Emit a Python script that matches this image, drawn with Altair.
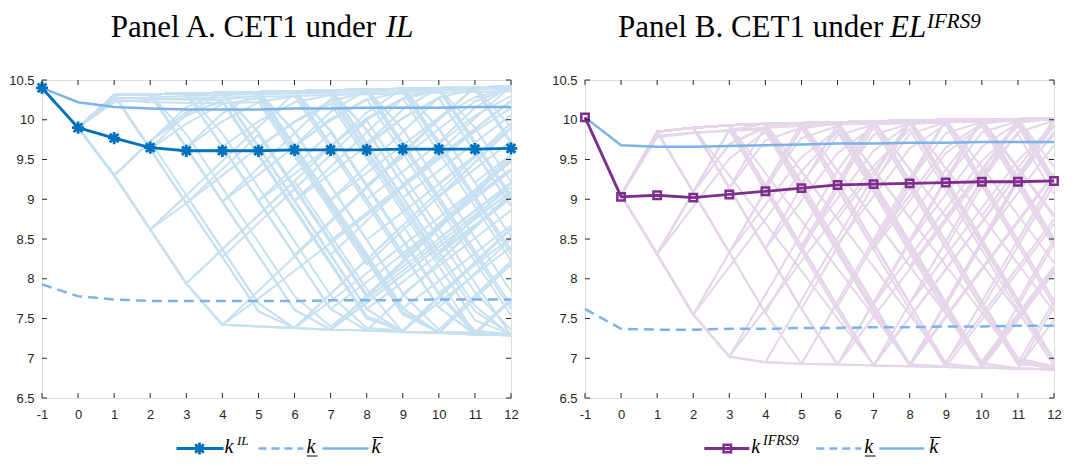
import altair as alt
import pandas as pd

periods = list(range(-1, 13))

meanA = [10.40, 9.90, 9.77, 9.65, 9.61, 9.61, 9.61, 9.62, 9.62, 9.62, 9.63, 9.63, 9.63, 9.64]
upperA = [10.40, 10.22, 10.16, 10.14, 10.13, 10.13, 10.13, 10.14, 10.14, 10.15, 10.15, 10.15, 10.16, 10.16]
lowerA = [7.93, 7.78, 7.74, 7.72, 7.72, 7.72, 7.72, 7.72, 7.73, 7.73, 7.73, 7.74, 7.74, 7.74]

meanB = [10.03, 9.03, 9.05, 9.02, 9.06, 9.10, 9.14, 9.18, 9.19, 9.20, 9.21, 9.22, 9.22, 9.23]
upperB = [10.03, 9.68, 9.66, 9.66, 9.67, 9.68, 9.69, 9.70, 9.70, 9.71, 9.71, 9.72, 9.72, 9.72]
lowerB = [7.62, 7.37, 7.36, 7.36, 7.37, 7.37, 7.38, 7.38, 7.39, 7.39, 7.40, 7.40, 7.41, 7.41]

startA = [10.40, 9.90]
startB = [10.03, 9.05]

# simulated CET1 paths, periods 1..12
pathsA = [
    [10.31, 10.32, 10.33, 10.34, 10.35, 10.36, 10.37, 10.38, 10.39, 10.40, 10.41, 10.42],
    [9.30, 8.62, 7.94, 7.42, 7.40, 7.38, 7.36, 7.35, 7.33, 7.32, 7.30, 7.29],
    [9.30, 8.62, 7.94, 7.42, 7.85, 8.28, 8.71, 9.14, 9.57, 10.00, 10.41, 10.42],
    [9.30, 9.73, 10.16, 10.34, 10.35, 10.36, 10.37, 10.38, 10.39, 10.40, 10.41, 10.42],
    [9.30, 8.62, 9.05, 9.48, 9.91, 10.34, 10.37, 10.38, 10.39, 10.40, 10.41, 10.42],
    [10.31, 9.63, 8.95, 8.27, 7.59, 7.38, 7.81, 8.24, 8.67, 9.10, 9.53, 9.96],
    [10.31, 10.32, 9.65, 8.97, 8.29, 7.61, 7.36, 7.79, 8.22, 8.65, 9.08, 9.51],
    [10.31, 10.32, 10.33, 9.66, 8.98, 8.30, 7.62, 7.35, 7.33, 7.32, 7.30, 7.29],
    [9.30, 8.62, 7.94, 8.37, 8.80, 9.23, 9.66, 10.09, 10.39, 10.40, 10.41, 10.42],
    [10.31, 9.64, 10.07, 10.34, 10.35, 10.36, 10.37, 10.38, 10.39, 10.40, 10.41, 10.42],
    [10.31, 10.32, 10.33, 10.34, 9.66, 8.98, 8.30, 8.73, 9.16, 9.59, 10.02, 10.42],
    [10.31, 10.32, 10.33, 10.34, 10.35, 9.67, 8.99, 8.31, 7.63, 7.32, 7.30, 7.29],
    [10.31, 10.32, 10.33, 10.34, 10.35, 10.36, 9.68, 9.00, 8.32, 7.64, 8.07, 8.50],
    [10.31, 10.32, 10.33, 10.34, 10.35, 10.36, 10.37, 9.70, 9.02, 8.34, 7.66, 7.29],
    [10.31, 10.32, 10.33, 10.34, 10.35, 10.36, 10.37, 10.38, 9.71, 9.03, 8.35, 7.67],
    [10.31, 10.32, 10.33, 10.34, 10.35, 10.36, 10.37, 10.38, 10.39, 9.72, 9.04, 8.36],
    [10.31, 10.32, 10.33, 10.34, 10.35, 10.36, 10.37, 10.38, 10.39, 10.40, 9.72, 9.04],
    [10.31, 10.32, 10.33, 10.34, 10.35, 10.36, 10.37, 10.38, 10.39, 10.40, 10.41, 9.73],
    [10.31, 9.63, 8.95, 9.38, 9.81, 9.13, 8.45, 7.77, 8.20, 8.63, 9.06, 9.49],
    [10.31, 10.32, 9.65, 8.97, 9.40, 9.83, 10.26, 9.58, 8.90, 8.22, 8.65, 9.08],
    [9.30, 8.62, 9.05, 8.37, 7.69, 7.38, 7.81, 8.24, 8.67, 7.99, 7.31, 7.29],
    [10.31, 10.32, 10.33, 9.66, 8.98, 9.41, 9.84, 9.16, 8.48, 7.80, 7.30, 7.73],
    [10.31, 10.32, 10.33, 10.34, 9.66, 8.98, 8.30, 7.62, 7.33, 7.76, 8.19, 8.62],
    [10.31, 10.32, 10.33, 10.34, 10.35, 9.67, 8.99, 9.42, 9.85, 10.28, 9.60, 8.92],
    [10.31, 10.32, 9.65, 8.97, 8.29, 7.61, 7.36, 7.35, 7.78, 8.21, 8.64, 9.07],
    [9.30, 8.62, 7.94, 7.42, 7.40, 7.38, 7.36, 7.79, 8.22, 8.65, 9.08, 9.51],
    [10.31, 10.32, 10.33, 10.34, 10.35, 10.36, 9.68, 9.00, 8.32, 7.64, 7.30, 7.29],
    [10.31, 10.32, 10.33, 10.34, 10.35, 10.36, 10.37, 10.38, 9.71, 9.03, 9.46, 9.89],
    [10.31, 9.63, 8.95, 8.27, 8.70, 9.13, 9.56, 9.99, 9.31, 8.63, 7.95, 7.29],
    [10.31, 10.32, 10.33, 10.34, 9.66, 8.98, 9.41, 9.84, 10.27, 10.40, 10.41, 10.42],
    [10.31, 10.32, 10.33, 10.34, 10.35, 10.36, 10.37, 9.70, 9.02, 8.34, 8.77, 9.20],
    [10.31, 10.32, 10.33, 10.34, 10.35, 9.67, 8.99, 8.31, 7.63, 7.32, 7.75, 8.18],
    [10.31, 10.32, 9.65, 10.08, 10.35, 10.36, 9.68, 9.00, 8.32, 7.64, 7.30, 7.29],
    [9.30, 9.73, 9.05, 8.37, 7.69, 7.38, 7.81, 8.24, 7.56, 7.32, 7.30, 7.29],
    [10.31, 10.32, 10.33, 9.66, 8.98, 8.30, 8.73, 9.16, 9.59, 10.02, 10.41, 9.73],
    [10.31, 10.32, 10.33, 10.34, 10.35, 9.67, 10.10, 10.38, 10.39, 10.40, 9.73, 9.05],
    [10.31, 10.32, 10.33, 10.34, 10.35, 10.36, 10.37, 9.70, 10.13, 10.40, 10.41, 10.42],
    [10.31, 10.32, 10.33, 10.34, 10.35, 10.36, 10.37, 10.38, 10.39, 9.72, 10.15, 10.42],
    [10.31, 10.32, 10.33, 10.34, 9.66, 8.98, 8.30, 7.62, 7.33, 7.32, 7.30, 7.73],
    [9.30, 8.62, 7.94, 8.37, 8.80, 9.23, 8.55, 7.87, 7.33, 7.32, 7.75, 8.18],
    [10.28, 10.26, 10.25, 10.25, 9.57, 8.89, 8.21, 7.53, 7.35, 7.78, 8.21, 8.64],
    [10.25, 10.22, 10.21, 10.21, 10.22, 9.54, 8.86, 8.18, 8.61, 9.04, 9.47, 9.90],
    [9.30, 9.73, 10.10, 10.22, 9.54, 8.86, 8.18, 7.50, 7.34, 7.77, 8.20, 8.63],
    [10.31, 9.63, 9.95, 10.20, 10.27, 9.59, 8.91, 8.23, 7.55, 7.33, 7.32, 7.75],
    [10.31, 10.32, 9.65, 9.98, 10.22, 10.30, 9.62, 8.94, 8.26, 8.69, 9.12, 9.55],
    [10.31, 10.32, 10.33, 9.66, 9.98, 10.22, 10.31, 9.63, 8.95, 8.27, 7.59, 7.30],
    [9.30, 8.62, 8.95, 9.30, 9.65, 9.97, 10.20, 9.52, 8.84, 8.16, 7.48, 7.30],
    [10.31, 10.32, 10.33, 10.34, 9.66, 9.98, 10.24, 10.34, 9.66, 8.98, 8.30, 7.62],
    [10.31, 10.32, 10.33, 10.34, 10.35, 9.67, 9.99, 10.25, 10.35, 9.67, 8.99, 8.31],
    [10.31, 10.32, 10.33, 10.34, 10.35, 10.36, 9.68, 10.00, 10.26, 10.37, 9.69, 9.01],
    [10.31, 10.32, 10.33, 10.34, 10.35, 10.36, 10.37, 9.70, 10.02, 10.28, 10.38, 9.70],
    [9.30, 8.62, 7.94, 7.42, 7.75, 8.10, 8.45, 8.80, 9.15, 9.50, 9.85, 10.15],
    [10.31, 10.32, 9.65, 8.97, 8.29, 7.61, 7.36, 7.70, 8.05, 8.40, 8.75, 9.10],
    [10.31, 10.32, 10.33, 10.34, 10.35, 9.67, 8.99, 8.31, 7.63, 7.97, 8.32, 8.67],
    [10.31, 10.32, 10.33, 10.34, 10.35, 10.36, 10.37, 9.70, 9.02, 8.34, 8.68, 9.03],
    [10.31, 10.32, 10.33, 10.34, 10.35, 10.36, 9.68, 9.00, 9.35, 9.70, 10.05, 10.30],
    [10.31, 9.63, 8.95, 8.27, 7.59, 7.38, 7.36, 7.70, 8.05, 8.40, 8.75, 9.10],
    [10.31, 10.32, 10.33, 10.34, 9.66, 8.98, 8.30, 7.62, 7.96, 8.31, 8.66, 9.01],
    [10.27, 10.28, 10.30, 10.31, 10.32, 10.33, 10.34, 10.35, 10.36, 10.37, 10.38, 10.39],
    [10.22, 10.25, 10.27, 10.28, 10.29, 10.30, 10.31, 10.32, 10.33, 10.34, 10.35, 10.36],
    [9.30, 9.73, 10.05, 10.25, 10.30, 9.62, 8.94, 8.26, 7.58, 7.33, 7.32, 7.30],
    [10.31, 10.32, 10.33, 9.66, 8.98, 8.30, 7.62, 7.96, 8.31, 8.66, 9.01, 9.36],
    [10.31, 10.32, 10.33, 10.34, 10.35, 10.36, 10.37, 10.38, 9.71, 9.03, 9.38, 9.73],
    [10.31, 10.32, 10.33, 10.34, 10.35, 9.67, 8.99, 9.33, 9.68, 10.03, 10.28, 10.40],
    [10.31, 10.32, 10.33, 10.34, 9.66, 8.98, 9.32, 9.67, 10.02, 10.27, 9.59, 8.91],
    [10.31, 10.32, 10.33, 10.34, 10.35, 10.36, 9.68, 9.00, 8.32, 8.66, 9.01, 9.36],
    [10.31, 10.32, 9.65, 8.97, 9.31, 9.66, 10.01, 10.26, 9.58, 8.90, 8.22, 7.54],
    [10.31, 10.32, 10.33, 10.34, 10.35, 10.36, 10.37, 9.70, 9.02, 9.36, 9.71, 10.06],
    [10.31, 10.32, 10.33, 9.66, 8.98, 9.32, 9.67, 10.02, 10.27, 9.59, 8.91, 8.23],
    [10.31, 10.32, 10.33, 10.34, 10.35, 10.36, 10.37, 10.38, 10.39, 9.72, 9.04, 9.38],
    [10.31, 10.32, 10.33, 10.34, 10.35, 10.36, 10.37, 10.38, 9.88, 9.20, 8.52, 7.84],
    [10.31, 10.32, 10.33, 10.34, 10.35, 10.36, 9.86, 9.18, 8.50, 7.82, 7.35, 7.30],
    [10.31, 10.32, 10.33, 10.34, 10.35, 9.85, 9.17, 8.49, 7.81, 7.36, 7.79, 8.22],
    [10.31, 10.32, 10.33, 10.34, 9.84, 9.16, 8.48, 7.80, 8.15, 8.50, 8.85, 9.20],
    [10.31, 10.32, 10.33, 9.83, 9.15, 8.47, 7.79, 7.38, 7.35, 7.70, 8.05, 8.40],
    [10.31, 10.32, 9.82, 9.14, 8.46, 7.78, 7.40, 7.75, 8.10, 8.45, 8.80, 9.15],
    [10.31, 10.32, 10.33, 10.34, 10.35, 10.36, 10.37, 10.38, 10.39, 9.89, 9.21, 8.53],
    [10.31, 10.32, 10.33, 10.34, 10.35, 10.36, 10.37, 10.38, 10.39, 10.40, 9.90, 9.22],
    [10.31, 10.32, 10.33, 10.34, 10.35, 10.36, 10.37, 9.87, 9.19, 8.51, 7.83, 7.36],
    [10.31, 10.32, 10.33, 10.34, 10.35, 10.36, 10.37, 10.38, 10.39, 10.40, 10.41, 9.91],
    [10.31, 10.32, 10.33, 10.34, 10.35, 10.36, 10.37, 10.38, 9.88, 9.20, 9.55, 9.90],
    [10.31, 10.32, 10.33, 10.34, 10.35, 10.36, 9.86, 9.18, 9.53, 9.88, 10.23, 10.40],
    [10.31, 10.32, 10.33, 10.34, 10.35, 9.85, 9.17, 8.49, 8.84, 9.19, 9.54, 9.89],
    [10.31, 10.32, 10.33, 10.34, 9.84, 9.16, 8.48, 8.83, 9.18, 9.53, 9.88, 10.23],
    [10.31, 10.32, 10.33, 10.34, 10.35, 10.36, 10.37, 9.87, 9.19, 9.54, 9.89, 10.24],
    [9.30, 8.62, 7.94, 7.42, 7.40, 7.38, 7.72, 8.07, 8.42, 8.77, 9.12, 9.47],
    [10.31, 10.32, 10.33, 10.34, 10.35, 10.36, 10.37, 10.38, 10.39, 9.89, 9.21, 9.56],
    [10.31, 10.32, 10.33, 10.34, 10.35, 10.36, 9.86, 9.18, 8.50, 7.82, 8.17, 8.52],
    [10.31, 10.32, 10.33, 10.34, 10.35, 10.36, 10.37, 9.87, 9.19, 8.51, 8.86, 9.21],
    [10.31, 10.32, 10.33, 10.34, 10.35, 9.85, 9.17, 8.49, 7.81, 8.16, 8.51, 8.86],
]

pathsB = [
    [9.85, 9.90, 9.93, 9.95, 9.96, 9.97, 9.98, 9.99, 10.00, 10.00, 10.01, 10.02],
    [8.31, 7.55, 7.02, 6.95, 6.93, 6.92, 6.91, 6.90, 6.89, 6.88, 6.87, 6.86],
    [8.31, 9.09, 9.87, 9.95, 9.96, 9.97, 9.98, 9.99, 10.00, 10.00, 10.01, 10.02],
    [9.85, 9.09, 8.33, 7.57, 6.93, 7.71, 8.49, 9.27, 10.00, 10.00, 10.01, 10.02],
    [8.31, 7.55, 8.33, 9.11, 9.89, 9.96, 9.97, 9.98, 9.99, 10.00, 10.01, 10.02],
    [9.85, 9.90, 9.14, 8.38, 7.62, 6.92, 6.91, 7.69, 8.47, 9.25, 10.01, 10.02],
    [9.85, 9.90, 9.93, 9.17, 8.41, 7.65, 6.91, 6.90, 6.89, 6.88, 6.87, 6.86],
    [9.85, 9.90, 9.93, 9.95, 9.20, 8.44, 7.68, 8.46, 9.24, 10.00, 9.25, 8.49],
    [9.85, 9.90, 9.93, 9.95, 9.96, 9.21, 8.45, 7.69, 6.93, 7.71, 8.49, 9.27],
    [9.85, 9.90, 9.93, 9.95, 9.96, 9.97, 9.22, 8.46, 7.70, 6.94, 6.87, 6.86],
    [9.85, 9.90, 9.93, 9.95, 9.96, 9.97, 9.98, 9.23, 8.47, 7.71, 6.95, 6.87],
    [9.85, 9.90, 9.93, 9.95, 9.96, 9.97, 9.98, 9.99, 9.24, 8.48, 7.72, 6.96],
    [9.85, 9.90, 9.93, 9.95, 9.96, 9.97, 9.98, 9.99, 10.00, 9.24, 8.48, 7.72],
    [9.85, 9.90, 9.93, 9.95, 9.96, 9.97, 9.98, 9.99, 10.00, 10.00, 9.25, 8.49],
    [9.85, 9.90, 9.93, 9.95, 9.96, 9.97, 9.98, 9.99, 10.00, 10.00, 10.01, 9.25],
    [8.31, 9.09, 8.33, 9.11, 8.35, 9.13, 8.37, 9.15, 8.39, 9.17, 8.41, 9.19],
    [9.85, 9.09, 9.87, 9.11, 8.35, 9.13, 9.91, 9.15, 8.39, 7.63, 8.41, 9.19],
    [8.31, 7.55, 7.02, 7.80, 8.58, 9.36, 9.98, 9.22, 8.46, 7.70, 6.94, 7.72],
    [9.85, 9.90, 9.14, 8.38, 9.16, 9.94, 9.18, 8.42, 7.66, 8.44, 9.22, 10.00],
    [9.85, 9.90, 9.93, 9.17, 8.41, 9.19, 9.97, 9.99, 9.23, 8.47, 7.71, 6.95],
    [9.85, 9.90, 9.93, 9.95, 9.96, 9.97, 9.22, 8.46, 9.24, 10.00, 10.01, 10.02],
    [8.31, 7.55, 7.02, 6.95, 7.73, 8.51, 9.29, 9.99, 10.00, 9.24, 8.48, 7.72],
    [9.85, 9.09, 8.33, 9.11, 9.89, 9.97, 9.98, 9.99, 10.00, 9.24, 8.48, 9.26],
    [9.85, 9.90, 9.14, 8.38, 7.62, 8.40, 9.18, 9.96, 10.00, 10.00, 10.01, 9.25],
    [9.85, 9.90, 9.93, 9.95, 9.20, 8.44, 7.68, 6.92, 6.89, 6.88, 7.66, 8.44],
    [9.85, 9.90, 9.93, 9.95, 9.96, 9.21, 8.45, 7.69, 6.93, 6.88, 6.87, 6.86],
    [9.85, 9.90, 9.93, 9.95, 9.96, 9.97, 9.98, 9.23, 8.47, 9.25, 10.01, 10.02],
    [8.31, 9.09, 9.87, 9.11, 8.35, 7.59, 6.91, 6.90, 7.68, 8.46, 9.24, 10.02],
    [9.85, 9.90, 9.93, 9.95, 9.96, 9.97, 9.98, 9.99, 9.24, 8.48, 7.72, 8.50],
    [9.85, 9.09, 8.33, 7.57, 8.35, 9.13, 8.37, 7.61, 6.89, 6.88, 6.87, 7.65],
    [9.85, 9.90, 9.93, 9.17, 9.95, 9.97, 9.98, 9.99, 9.24, 8.48, 9.26, 10.02],
    [9.85, 9.90, 9.93, 9.95, 9.96, 9.21, 9.98, 9.99, 10.00, 10.00, 9.25, 8.49],
    [9.85, 9.90, 9.93, 9.95, 9.20, 8.44, 7.68, 6.92, 7.70, 8.48, 9.26, 10.02],
    [9.85, 9.90, 9.14, 9.92, 9.96, 9.97, 9.98, 9.23, 8.47, 7.71, 6.95, 6.86],
    [9.85, 9.90, 9.93, 9.95, 9.96, 9.97, 9.98, 9.99, 10.00, 9.24, 10.01, 10.02],
    [8.31, 7.55, 7.02, 6.95, 6.93, 6.92, 7.70, 8.48, 9.26, 10.00, 10.01, 10.02],
    [9.85, 9.90, 9.93, 9.17, 8.41, 7.65, 8.43, 9.21, 9.99, 10.00, 10.01, 10.02],
    [9.85, 9.90, 9.93, 9.95, 9.96, 9.97, 9.22, 8.46, 7.70, 8.48, 9.26, 8.50],
    [9.85, 9.90, 9.14, 8.38, 7.62, 6.92, 7.70, 8.48, 9.26, 8.50, 7.74, 6.98],
    [9.85, 9.90, 9.93, 9.95, 9.96, 9.21, 8.45, 7.69, 8.47, 7.71, 6.95, 6.86],
    [9.80, 9.84, 9.86, 9.88, 9.12, 8.36, 7.60, 6.92, 7.52, 8.12, 8.72, 9.32],
    [8.31, 8.91, 9.51, 9.85, 9.09, 8.33, 7.57, 6.91, 7.51, 8.11, 8.71, 9.31],
    [9.85, 9.90, 9.14, 9.74, 9.90, 9.14, 8.38, 8.98, 9.58, 9.92, 9.16, 8.40],
    [9.85, 9.90, 9.93, 9.95, 9.96, 9.21, 9.81, 9.95, 9.19, 8.43, 7.67, 6.96],
    [9.85, 9.90, 9.93, 9.17, 9.77, 9.92, 9.16, 8.40, 7.64, 6.93, 7.53, 8.13],
    [9.85, 9.90, 9.93, 9.95, 9.20, 8.44, 9.04, 9.64, 9.94, 9.18, 8.42, 7.66],
    [9.85, 9.90, 9.93, 9.95, 9.96, 9.97, 9.98, 9.23, 9.83, 9.97, 9.21, 8.45],
    [9.85, 9.90, 9.93, 9.95, 9.96, 9.97, 9.22, 8.46, 9.06, 9.66, 9.96, 9.20],
    [9.85, 9.09, 8.33, 8.93, 9.53, 9.87, 9.11, 8.35, 7.59, 6.93, 7.53, 8.13],
    [8.31, 7.55, 8.15, 8.75, 9.35, 9.85, 9.09, 8.33, 7.57, 6.89, 6.88, 7.48],
    [9.85, 9.90, 9.93, 9.95, 9.96, 9.97, 9.98, 9.99, 9.24, 9.84, 9.98, 9.22],
    [9.85, 9.90, 9.93, 9.95, 9.96, 9.97, 9.98, 9.99, 10.00, 9.24, 9.84, 9.99],
    [8.31, 7.55, 7.02, 7.62, 8.22, 8.82, 9.42, 9.88, 9.12, 8.36, 7.60, 6.90],
    [9.85, 9.90, 9.14, 8.38, 7.62, 6.92, 7.52, 8.12, 8.72, 9.32, 9.82, 9.06],
    [9.85, 9.90, 9.93, 9.17, 8.41, 7.65, 6.91, 7.51, 8.11, 8.71, 9.31, 9.81],
    [9.85, 9.90, 9.93, 9.95, 9.20, 8.44, 7.68, 6.92, 6.89, 7.49, 8.09, 8.69],
    [9.85, 9.90, 9.93, 9.95, 9.96, 9.21, 8.45, 7.69, 6.93, 6.88, 7.48, 8.08],
    [9.78, 9.83, 9.87, 9.90, 9.92, 9.94, 9.95, 9.96, 9.97, 9.98, 9.99, 10.00],
    [9.85, 9.90, 9.93, 9.95, 9.96, 9.97, 9.98, 9.99, 10.00, 10.00, 9.25, 9.85],
    [9.85, 9.09, 9.69, 9.92, 9.95, 9.96, 9.21, 8.45, 7.69, 6.93, 6.87, 6.86],
    [9.85, 9.90, 9.93, 9.95, 9.96, 9.97, 9.98, 9.23, 8.47, 7.71, 7.00, 6.90],
    [9.85, 9.90, 9.93, 9.95, 9.96, 9.21, 8.45, 9.05, 9.65, 9.95, 10.00, 9.25],
    [9.85, 9.90, 9.14, 8.38, 8.98, 9.58, 9.92, 9.16, 8.40, 7.64, 6.92, 6.90],
    [9.85, 9.90, 9.93, 9.95, 9.20, 9.80, 9.94, 9.96, 9.21, 8.45, 7.69, 6.96],
    [9.85, 9.90, 9.93, 9.95, 9.96, 9.97, 9.22, 9.82, 9.97, 9.99, 9.24, 8.48],
    [8.31, 9.09, 9.69, 9.90, 9.14, 8.38, 7.62, 6.92, 6.90, 6.89, 7.49, 8.09],
    [9.85, 9.90, 9.93, 9.95, 9.96, 9.97, 9.98, 9.99, 9.24, 8.48, 9.08, 9.68],
    [9.85, 9.90, 9.93, 9.17, 8.41, 9.01, 9.61, 9.95, 9.97, 9.98, 9.23, 8.47],
    [9.85, 9.90, 9.93, 9.95, 9.20, 8.44, 7.68, 8.28, 8.88, 9.48, 9.92, 9.16],
    [9.85, 9.90, 9.93, 9.95, 9.96, 9.21, 8.45, 7.69, 8.29, 8.89, 9.49, 9.93],
    [9.85, 9.90, 9.93, 9.95, 9.96, 9.97, 9.98, 9.99, 9.39, 8.79, 8.19, 7.59],
    [9.85, 9.90, 9.93, 9.95, 9.96, 9.97, 9.98, 9.38, 8.78, 8.18, 7.58, 6.98],
    [9.85, 9.90, 9.93, 9.95, 9.96, 9.97, 9.37, 8.77, 8.17, 7.57, 6.97, 6.88],
    [9.85, 9.90, 9.93, 9.95, 9.96, 9.36, 8.76, 8.16, 7.56, 6.96, 7.56, 8.16],
    [9.85, 9.90, 9.93, 9.95, 9.35, 8.75, 8.15, 7.55, 6.95, 7.55, 8.15, 8.75],
    [9.85, 9.90, 9.93, 9.95, 9.96, 9.97, 9.98, 9.99, 10.00, 9.40, 8.80, 8.20],
    [9.85, 9.90, 9.93, 9.95, 9.96, 9.97, 9.98, 9.99, 10.00, 10.00, 9.40, 8.80],
    [9.85, 9.90, 9.93, 9.95, 9.96, 9.97, 9.98, 9.99, 10.00, 10.00, 10.01, 9.41],
    [9.85, 9.90, 9.93, 9.33, 8.73, 8.13, 7.53, 6.93, 7.53, 8.13, 8.73, 9.33],
    [9.85, 9.90, 9.30, 8.70, 8.10, 7.50, 6.92, 7.52, 8.12, 8.72, 9.32, 9.92],
    [9.85, 9.90, 9.93, 9.95, 9.96, 9.97, 9.37, 8.77, 9.37, 9.97, 10.01, 10.02],
    [9.85, 9.90, 9.93, 9.95, 9.96, 9.97, 9.98, 9.38, 8.78, 9.38, 9.98, 10.02],
    [9.85, 9.90, 9.93, 9.95, 9.96, 9.97, 9.98, 9.99, 9.39, 8.79, 9.39, 9.99],
    [9.85, 9.90, 9.93, 9.95, 9.35, 8.75, 9.35, 9.95, 9.97, 9.98, 9.38, 8.78],
    [9.85, 9.90, 9.93, 9.95, 9.96, 9.36, 8.76, 8.16, 8.76, 9.36, 9.96, 10.02],
]

xticks = list(range(-1, 13))
yticks = [6.5, 7, 7.5, 8, 8.5, 9, 9.5, 10, 10.5]

W, H = 469, 318
LIGHT_A = "#c8e1f1"
LIGHT_B = "#e5d6e9"
BOUND = "#7db3e8"
MEAN_A = "#0072bd"
MEAN_B = "#7e2f8e"
AXIS = "#262626"
STAR = "M0,-1L0,1M-1,0L1,0M-0.71,-0.71L0.71,0.71M-0.71,0.71L0.71,-0.71"
SERIF = "Liberation Serif"

xscale = alt.Scale(domain=[-1, 12], nice=False, zero=False)
yscale = alt.Scale(domain=[6.5, 10.5], nice=False, zero=False)
xaxis = alt.Axis(values=xticks, labelExpr="'' + datum.value", ticks=False, domain=False,
                 grid=False, labelPadding=10, labelFontSize=13, labelColor=AXIS,
                 labelFont="Liberation Sans", title=None, labelFlush=False)
yaxis = alt.Axis(values=yticks, labelExpr="'' + datum.value", ticks=False, domain=False,
                 grid=False, labelPadding=8, labelFontSize=13, labelColor=AXIS,
                 labelFont="Liberation Sans", title=None)
X = alt.X("t:Q", scale=xscale, axis=xaxis)
Y = alt.Y("v:Q", scale=yscale, axis=yaxis)


def paths_df(start, paths):
    rows = []
    for i, p in enumerate(paths):
        for tt, v in zip(periods, start + p):
            rows.append({"path": i, "t": tt, "v": v})
    return pd.DataFrame(rows)


def series_df(vals):
    return pd.DataFrame({"t": periods, "v": vals})


one = pd.DataFrame({"a": [0]})


def hline(x1, x2, y, color, width=2.5, dash=None):
    kw = dict(color=color, strokeWidth=width)
    if dash:
        kw["strokeDash"] = dash
    return alt.Chart(one).mark_rule(**kw).encode(
        x=alt.value(x1), x2=alt.value(x2), y=alt.value(y))


def txt(s, x, y, size, italic=False, align="left", color="black"):
    kw = dict(text=s, font=SERIF, fontSize=size, align=align, baseline="alphabetic", color=color)
    if italic:
        kw["fontStyle"] = "italic"
    return alt.Chart(one).mark_text(**kw).encode(x=alt.value(x), y=alt.value(y))


def frame_ticks():
    dx = pd.DataFrame({"t": xticks})
    dy = pd.DataFrame({"v": yticks})
    r = dict(color=AXIS, strokeWidth=1)
    return [
        alt.Chart(dx).mark_rule(**r).encode(x=X, y=alt.value(H), y2=alt.value(H - 5)),
        alt.Chart(dx).mark_rule(**r).encode(x=X, y=alt.value(0), y2=alt.value(5)),
        alt.Chart(dy).mark_rule(**r).encode(y=Y, x=alt.value(0), x2=alt.value(5)),
        alt.Chart(dy).mark_rule(**r).encode(y=Y, x=alt.value(W), x2=alt.value(W - 5)),
    ]


def panel(start, paths, light, mean, upper, lower, mcolor, mshape, msize, mwidth, extra):
    p = alt.Chart(paths_df(start, paths)).mark_line(color=light, strokeWidth=2).encode(
        x=X, y=Y, detail="path:N")
    up = alt.Chart(series_df(upper)).mark_line(color=BOUND, strokeWidth=2.5).encode(x=X, y=Y)
    lo = alt.Chart(series_df(lower)).mark_line(color=BOUND, strokeWidth=2.5, strokeDash=[10, 6]).encode(x=X, y=Y)
    ml = alt.Chart(series_df(mean)).mark_line(color=mcolor, strokeWidth=2.8).encode(x=X, y=Y)
    mp = alt.Chart(series_df(mean)).mark_point(shape=mshape, filled=False, size=msize,
                                               strokeWidth=mwidth, color=mcolor, opacity=1).encode(x=X, y=Y)
    layers = [p, up, lo, ml, mp] + frame_ticks() + extra
    return alt.layer(*layers).properties(width=W, height=H)


LY = 368.5   # legend line
KY = 373.0   # legend k baseline
SY = 364.5   # superscript baseline
UY = 376.0   # underline
OY = 357.5   # overline
TY = -43.5   # title baseline
SUPY = -52.0 # title superscript baseline

extraA = [
    hline(134.5, 181.5, LY, MEAN_A, 2.8),
    alt.Chart(one).mark_point(shape=STAR, filled=False, size=150, strokeWidth=2.8,
                              color=MEAN_A, opacity=1).encode(x=alt.value(157.5), y=alt.value(LY)),
    txt("k", 182.5, KY, 20, italic=True),
    txt("IL", 195.0, SY, 13, italic=True),
    hline(216.5, 261.5, LY, BOUND, 2.5, [8, 5]),
    txt("k", 264.5, KY, 20, italic=True),
    hline(265.0, 275.5, UY, "black", 1),
    hline(280.5, 326.5, LY, BOUND, 2.5),
    txt("k", 329.5, KY, 20, italic=True),
    hline(330.5, 341.0, OY, "black", 1),
    txt("Panel A. CET1 under", 334.0, TY, 31, align="right"),
    txt("IL", 344.0, TY, 31, italic=True),
]

extraB = [
    hline(119.3, 164.3, LY, MEAN_B, 2.8),
    alt.Chart(one).mark_point(shape="square", filled=False, size=55, strokeWidth=2.5,
                              color=MEAN_B, opacity=1).encode(x=alt.value(142.3), y=alt.value(LY)),
    txt("k", 166.3, KY, 20, italic=True),
    txt("IFRS9", 178.0, SY, 14, italic=True),
    hline(231.3, 276.3, LY, BOUND, 2.5, [8, 5]),
    txt("k", 279.3, KY, 20, italic=True),
    hline(280.0, 290.5, UY, "black", 1),
    hline(294.3, 339.3, LY, BOUND, 2.5),
    txt("k", 344.3, KY, 20, italic=True),
    hline(345.0, 355.5, OY, "black", 1),
    txt("Panel B. CET1 under", 298.3, TY, 31, align="right"),
    txt("EL", 305.0, TY, 31, italic=True),
    txt("IFRS9", 342.0, SUPY, 21, italic=True),
]

chartA = panel(startA, pathsA, LIGHT_A, meanA, upperA, lowerA, MEAN_A, STAR, 150, 2.8, extraA)
chartB = panel(startB, pathsB, LIGHT_B, meanB, upperB, lowerB, MEAN_B, "square", 55, 2.5, extraB)

chart = alt.hconcat(chartA, chartB, spacing=74, bounds="flush").properties(
    padding={"left": 0, "top": 2, "right": 0, "bottom": 1}
).configure_view(stroke=AXIS, strokeWidth=1).configure(background="white")

chart.save("out.html", embed_options={"renderer": "svg", "actions": False})
